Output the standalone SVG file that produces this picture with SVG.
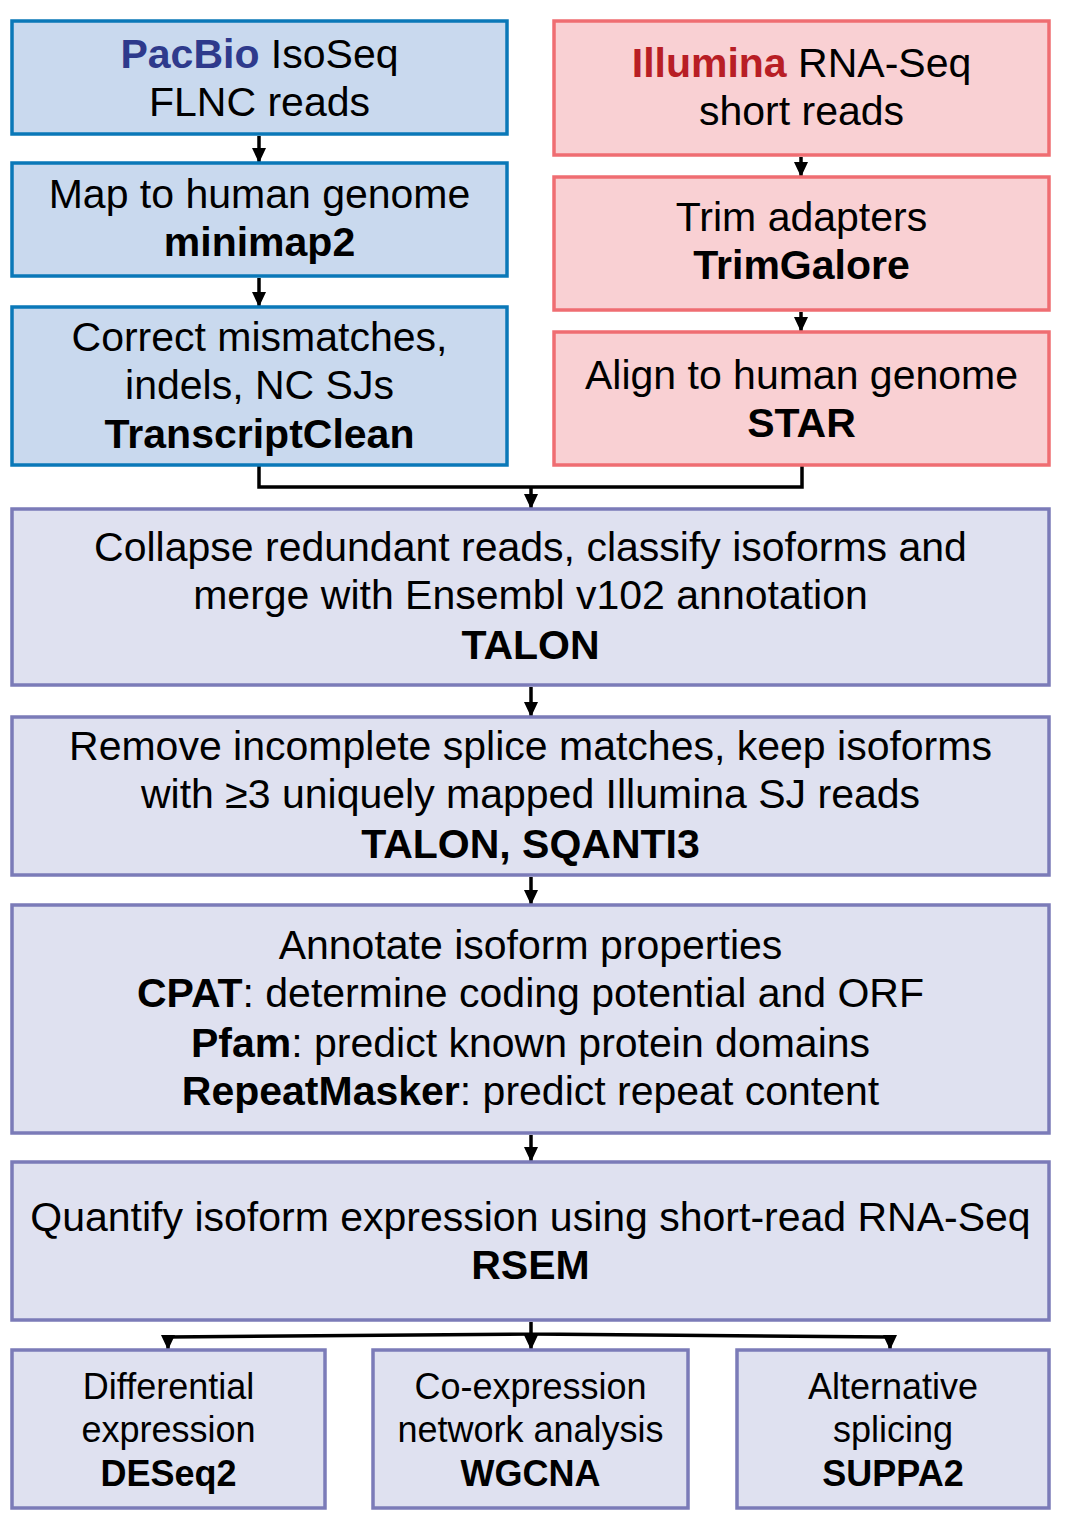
<svg xmlns="http://www.w3.org/2000/svg" width="1074" height="1535" viewBox="0 0 1074 1535">
<style>
text{font-family:"Liberation Sans",Arial,Helvetica,sans-serif;font-size:41px;fill:#000;text-anchor:middle}
.sm{font-size:36px}
.b{font-weight:bold}
.blue{fill:#c9d9ee;stroke:#0a78b8;stroke-width:3.5}
.red{fill:#f9d0d3;stroke:#ef6d72;stroke-width:3.5}
.pur{fill:#dfe1f0;stroke:#7b7bb8;stroke-width:3.5}
.c{fill:none;stroke:#000;stroke-width:3.5}
.ca{fill:none;stroke:#000;stroke-width:3.5;marker-end:url(#ah)}
</style>
<defs>
<marker id="ah" markerUnits="userSpaceOnUse" markerWidth="15" markerHeight="14" refX="14" refY="7" orient="auto" viewBox="0 0 15 14">
<path d="M0,0 L15,7 L0,14 Z" fill="#000"/>
</marker>
</defs>
<rect width="1074" height="1535" fill="#fff"/>
<g id="connectors">
<path class="ca" d="M259,136 V162"/>
<path class="ca" d="M259,278 V306"/>
<path class="ca" d="M801,157 V176"/>
<path class="ca" d="M801,312 V331"/>
<path class="c" d="M259,466 V487 H802 V466"/>
<path class="ca" d="M531,487 V508"/>
<path class="ca" d="M531,687 V716"/>
<path class="ca" d="M531,877 V904"/>
<path class="ca" d="M531,1135 V1161"/>
<path class="c" d="M531,1322 V1335 M168,1337 L531,1334 L890,1337"/>
<path class="ca" d="M168,1335 V1349"/>
<path class="ca" d="M531,1334 V1349"/>
<path class="ca" d="M890,1335 V1349"/>
</g>
<g id="pacbio">
<rect class="blue" x="12" y="21" width="495" height="113"/>
<text x="259.5" y="68"><tspan class="b" style="fill:#2e3a8c">PacBio</tspan> IsoSeq</text>
<text x="259.5" y="116">FLNC reads</text>
</g>
<g id="minimap2">
<rect class="blue" x="12" y="163" width="495" height="113"/>
<text x="259.5" y="208">Map to human genome</text>
<text x="259.5" y="256" class="b">minimap2</text>
</g>
<g id="transcriptclean">
<rect class="blue" x="12" y="307" width="495" height="158"/>
<text x="259.5" y="351">Correct mismatches,</text>
<text x="259.5" y="399">indels, NC SJs</text>
<text x="259.5" y="448" class="b">TranscriptClean</text>
</g>
<g id="illumina">
<rect class="red" x="554" y="21" width="495" height="134"/>
<text x="801.5" y="77"><tspan class="b" style="fill:#b81e25">Illumina</tspan> RNA-Seq</text>
<text x="801.5" y="125">short reads</text>
</g>
<g id="trimgalore">
<rect class="red" x="554" y="177" width="495" height="133"/>
<text x="801.5" y="231">Trim adapters</text>
<text x="801.5" y="279" class="b">TrimGalore</text>
</g>
<g id="star">
<rect class="red" x="554" y="332" width="495" height="133"/>
<text x="801.5" y="389">Align to human genome</text>
<text x="801.5" y="437" class="b">STAR</text>
</g>
<g id="talon">
<rect class="pur" x="12" y="509" width="1037" height="176"/>
<text x="530.5" y="561">Collapse redundant reads, classify isoforms and</text>
<text x="530.5" y="609">merge with Ensembl v102 annotation</text>
<text x="530.5" y="659" class="b">TALON</text>
</g>
<g id="filter">
<rect class="pur" x="12" y="717" width="1037" height="158"/>
<text x="530.5" y="760">Remove incomplete splice matches, keep isoforms</text>
<text x="530.5" y="808">with ≥3 uniquely mapped Illumina SJ reads</text>
<text x="530.5" y="858" class="b">TALON, SQANTI3</text>
</g>
<g id="annotate">
<rect class="pur" x="12" y="905" width="1037" height="228"/>
<text x="530.5" y="959">Annotate isoform properties</text>
<text x="530.5" y="1007"><tspan class="b">CPAT</tspan>: determine coding potential and ORF</text>
<text x="530.5" y="1057"><tspan class="b">Pfam</tspan>: predict known protein domains</text>
<text x="530.5" y="1105"><tspan class="b">RepeatMasker</tspan>: predict repeat content</text>
</g>
<g id="rsem">
<rect class="pur" x="12" y="1162" width="1037" height="158"/>
<text x="530.5" y="1231">Quantify isoform expression using short-read RNA-Seq</text>
<text x="530.5" y="1279" class="b">RSEM</text>
</g>
<g id="deseq2">
<rect class="pur" x="12" y="1350" width="313" height="158"/>
<text x="168.5" y="1399" class="sm">Differential</text>
<text x="168.5" y="1442" class="sm">expression</text>
<text x="168.5" y="1486" class="sm b">DESeq2</text>
</g>
<g id="wgcna">
<rect class="pur" x="373" y="1350" width="315" height="158"/>
<text x="530.5" y="1399" class="sm">Co-expression</text>
<text x="530.5" y="1442" class="sm">network analysis</text>
<text x="530.5" y="1486" class="sm b">WGCNA</text>
</g>
<g id="suppa2">
<rect class="pur" x="737" y="1350" width="312" height="158"/>
<text x="893" y="1399" class="sm">Alternative</text>
<text x="893" y="1442" class="sm">splicing</text>
<text x="893" y="1486" class="sm b">SUPPA2</text>
</g>
</svg>
